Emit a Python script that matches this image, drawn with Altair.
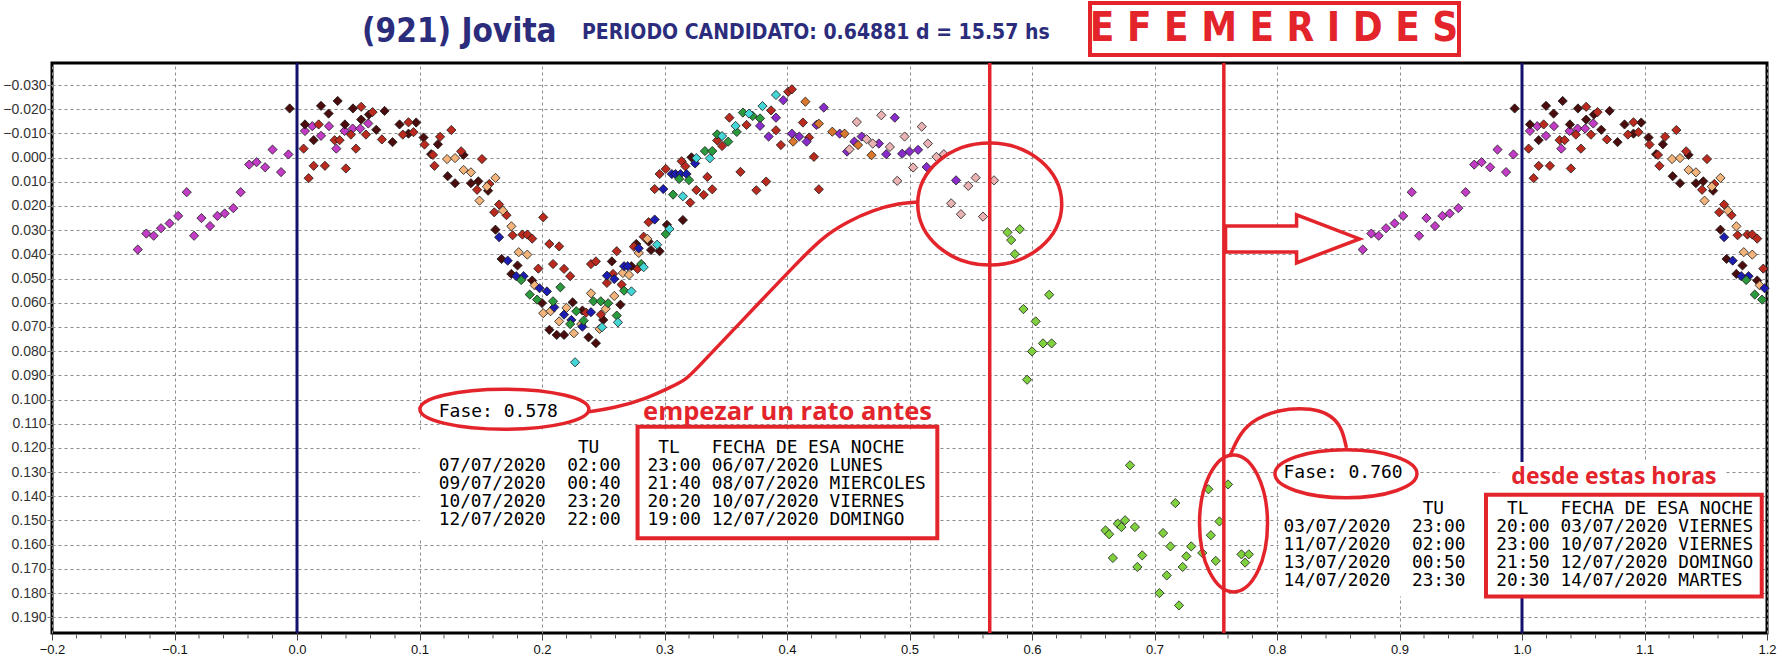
import altair as alt
import pandas as pd

# ---------------- data (phase, magnitude) per night ----------------
night_magenta = [(0.870,0.0380),(0.877,0.0314),(0.883,0.0323),(0.889,0.0292),(0.896,0.0272),(0.903,0.0241),
    (0.910,0.0143),(0.916,0.0323),(0.922,0.0250),(0.929,0.0283),(0.935,0.0241),(0.941,0.0231),(0.948,0.0209),
    (0.954,0.0143),(0.961,0.0029),(0.967,0.0019),(0.974,0.0040),(0.980,-0.0033),(0.987,0.0060),(0.993,-0.0013),
    (0.0065,-0.0110),(0.0125,-0.0130),(0.0196,-0.0090),(0.0261,-0.0130),(0.0321,-0.0037),(0.0388,-0.0110),
    (0.0454,-0.0120),(0.0516,-0.0120),(0.0582,-0.0141)]
night_dark = [(0.994,-0.0203),(0.0065,-0.0137),(0.0136,-0.0072),(0.0196,-0.0214),(0.0258,-0.0182),(0.0332,-0.0234),
    (0.0391,-0.0137),(0.0457,-0.0203),(0.0524,-0.0157),(0.0587,-0.0178),(0.0647,-0.0115),(0.0715,-0.0193),
    (0.0780,-0.0064),(0.0837,-0.0137),(0.0910,-0.0099),(0.0973,-0.0145),(0.1033,-0.0083),(0.1095,-0.0014),
    (0.115,-0.0055),(0.136,-0.0011),(0.123,0.0077),(0.129,0.0106),(0.142,0.0106),(0.148,0.0098),(0.156,0.0137),
    (0.162,0.0298),(0.167,0.0419),(0.180,0.0446),(0.175,0.0481),(0.192,0.0508),(0.200,0.0601),(0.225,0.0598),
    (0.233,0.0632),(0.250,0.0671),(0.264,0.0608),(0.206,0.0712),(0.212,0.0733),(0.218,0.0733),(0.238,0.0743),
    (0.244,0.0767),(0.257,0.0429),(0.273,0.0449),(0.277,0.0357),(0.287,0.0347),(0.289,0.0382),(0.296,0.0387),
    (0.302,0.0278),(0.315,0.0258),(0.322,-0.0001)]
night_red = [(0.0054,-0.0037),(0.0095,0.0085),(0.0136,0.0034),(0.0177,-0.0137),(0.0228,0.0034),(0.0307,-0.0072),
    (0.0348,-0.0072),(0.0399,0.0045),(0.0440,-0.0095),(0.0481,-0.0037),(0.0524,-0.0210),(0.0563,-0.0095),
    (0.0617,-0.0188),(0.0693,-0.0075),(0.0864,-0.0095),(0.0910,-0.0146),(0.0951,-0.0105),(0.1041,-0.0054),
    (0.1122,0.0034),(0.1168,-0.0086),(0.111,-0.0011),(0.126,-0.0114),(0.134,-0.0026),(0.151,0.0006),(0.147,0.0133),
    (0.157,0.0109),(0.161,0.0226),(0.165,0.0194),(0.171,0.0238),(0.176,0.0321),(0.184,0.0318),(0.188,0.0318),
    (0.192,0.0335),(0.201,0.0247),(0.197,0.0459),(0.206,0.0357),(0.214,0.0367),(0.209,0.0440),(0.218,0.0460),
    (0.223,0.0490),(0.236,0.0641),(0.248,0.0649),(0.240,0.0440),(0.244,0.0429),(0.261,0.0387),(0.258,0.0481),
    (0.253,0.0518),(0.265,0.0525),(0.278,0.0460),(0.275,0.0368),(0.283,0.0327),(0.287,0.0267),(0.292,0.0130),
    (0.321,0.0186),(0.326,0.0134),(0.296,0.0068),(0.301,0.0047),(0.314,0.0015),(0.317,0.0036),(0.335,0.0080),
    (0.332,0.0154),(0.339,0.0131),(0.343,-0.0071),(0.347,-0.0048),(0.353,-0.0165),(0.362,0.0059),(0.367,-0.0135),
    (0.375,0.0135),(0.383,0.0099),(0.387,-0.0195),(0.391,-0.0113),(0.395,-0.0052),(0.401,-0.0272),(0.404,-0.0282),
    (0.413,-0.0145),(0.418,-0.0083),(0.422,-0.0003),(0.426,0.0131)]
night_tan = [(0.1225,0.0006),(0.129,0.0002),(0.136,0.0051),(0.142,0.0061),(0.155,0.0120),(0.162,0.0084),
    (0.149,0.0178),(0.168,0.0219),(0.175,0.0284),(0.181,0.0391),(0.188,0.0401),(0.194,0.0528),(0.201,0.0643),
    (0.207,0.0635),(0.220,0.0621),(0.214,0.0677),(0.232,0.0688),(0.240,0.0561),(0.252,0.0625),(0.247,0.0708),
    (0.259,0.0572),(0.226,0.0726),(0.266,0.0477),(0.271,0.0485),(0.279,0.0394),(0.286,0.0336)]
night_blue = [(0.165,0.0329),(0.172,0.0426),(0.179,0.0490),(0.185,0.0490),(0.198,0.0540),(0.204,0.0553),
    (0.210,0.0619),(0.218,0.0649),(0.224,0.0671),(0.240,0.0639),(0.233,0.0699),(0.253,0.0488),(0.259,0.0502),
    (0.267,0.0449),(0.270,0.0449),(0.279,0.0375),(0.292,0.0256),(0.299,0.0130),(0.306,0.0068),(0.309,0.0068),
    (0.313,0.0068),(0.318,0.0068),(0.325,0.0024)]
night_green = [(0.183,0.0506),(0.215,0.0536),(0.190,0.0566),(0.196,0.0587),(0.209,0.0594),(0.223,0.0688),
    (0.228,0.0635),(0.234,0.0674),(0.242,0.0594),(0.248,0.0594),(0.254,0.0602),(0.261,0.0653),(0.267,0.0550),
    (0.281,0.0440),(0.301,0.0316),(0.307,0.0153),(0.312,0.0088),(0.320,0.0093),(0.333,-0.0027),(0.339,-0.0027),
    (0.343,-0.0096),(0.352,-0.0066),(0.359,-0.0106),(0.364,-0.0186),(0.372,-0.0172),(0.378,-0.0162)]
night_cyan = [(0.249,0.0701),(0.262,0.0681),(0.227,0.0846),(0.273,0.0553),(0.283,0.0453),(0.294,0.0360),
    (0.304,0.0295),(0.315,0.0160),(0.326,0.0002),(0.337,0.0003),(0.347,-0.0089),(0.358,-0.0131),(0.369,-0.0182),
    (0.380,-0.0213),(0.391,-0.0259)]
night_violet = [(0.378,-0.0131),(0.385,-0.0087),(0.391,-0.0165),(0.397,-0.0237),(0.404,-0.0099),(0.410,-0.0087),
    (0.416,-0.0066),(0.424,-0.0135),(0.430,-0.0207),(0.443,-0.0099),(0.449,-0.0025),(0.455,-0.0066),(0.461,-0.0087),
    (0.475,-0.0058),(0.481,-0.0014),(0.488,-0.0165),(0.494,-0.0016),(0.500,-0.0025),(0.507,-0.0032),(0.514,0.0039),
    (0.538,0.0094)]
night_orange = [(0.405,-0.0066),(0.415,-0.0231),(0.426,-0.0140),(0.437,-0.0107),(0.447,-0.0099),(0.458,-0.0052),
    (0.469,-0.0010)]
night_pink = [(0.451,-0.0034),(0.457,-0.0147),(0.465,-0.0076),(0.470,-0.0058),(0.477,-0.0175),(0.484,-0.0044),
    (0.490,0.0096),(0.496,-0.0087),(0.503,0.0041),(0.510,-0.0128),(0.515,-0.0058),(0.522,-0.0003),(0.528,-0.0014),
    (0.548,0.0117),(0.554,0.0083),(0.534,0.0189),(0.542,0.0234),(0.560,0.0244),(0.569,0.0094)]
night_lightgreen = [(0.580,0.0309),(0.590,0.0296),(0.583,0.0341),(0.586,0.0399),(0.614,0.0567),(0.593,0.0626),
    (0.603,0.0677),(0.609,0.0768),(0.616,0.0768),(0.600,0.0801),(0.596,0.0918),(0.680,0.1272),(0.660,0.1541),
    (0.663,0.1557),(0.670,0.1513),(0.673,0.1527),(0.676,0.1499),(0.684,0.1527),(0.666,0.1655),(0.690,0.1644),
    (0.686,0.1692),(0.717,0.1428),(0.707,0.1552),(0.713,0.1607),(0.730,0.1607),(0.726,0.1648),(0.723,0.1692),
    (0.710,0.1727),(0.704,0.1800),(0.720,0.1851),(0.739,0.1634),(0.746,0.1561),(0.750,0.1667),(0.753,0.1504),
    (0.744,0.1371),(0.760,0.1351),(0.771,0.1640),(0.777,0.1640),(0.774,0.1674)]

nights = {
    "magenta": night_magenta, "dark": night_dark, "red": night_red, "tan": night_tan,
    "blue": night_blue, "green": night_green, "cyan": night_cyan, "violet": night_violet,
    "orange": night_orange, "pink": night_pink, "lightgreen": night_lightgreen,
}
night_colors = ["#c23cc6", "#4a0c0c", "#bb2a1e", "#f2b47a", "#1c1cb0", "#2a9a3c", "#44d6d6",
                "#8a2ccc", "#d9772c", "#eab2b2", "#7fd23e"]

x_ticks = [-0.2, -0.1, 0.0, 0.1, 0.2, 0.3, 0.4, 0.5, 0.6, 0.7, 0.8, 0.9, 1.0, 1.1, 1.2]
x_minor = [-0.18, -0.16, -0.14, -0.12, -0.08, -0.06, -0.04, -0.02, 0.02, 0.04, 0.06, 0.08,
           0.12, 0.14, 0.16, 0.18, 0.22, 0.24, 0.26, 0.28, 0.32, 0.34, 0.36, 0.38, 0.42, 0.44, 0.46, 0.48,
           0.52, 0.54, 0.56, 0.58, 0.62, 0.64, 0.66, 0.68, 0.72, 0.74, 0.76, 0.78, 0.82, 0.84, 0.86, 0.88,
           0.92, 0.94, 0.96, 0.98, 1.02, 1.04, 1.06, 1.08, 1.12, 1.14, 1.16, 1.18]
y_ticks = [-0.03, -0.02, -0.01, 0.0, 0.01, 0.02, 0.03, 0.04, 0.05, 0.06, 0.07, 0.08, 0.09, 0.10,
           0.11, 0.12, 0.13, 0.14, 0.15, 0.16, 0.17, 0.18, 0.19]

# ephemerides tables
t1_ut = ["             TU", "07/07/2020  02:00", "09/07/2020  00:40", "10/07/2020  23:20", "12/07/2020  22:00"]
t1_tl = [" TL   FECHA DE ESA NOCHE", "23:00 06/07/2020 LUNES", "21:40 08/07/2020 MIERCOLES",
         "20:20 10/07/2020 VIERNES", "19:00 12/07/2020 DOMINGO"]
t2_ut = ["             TU", "03/07/2020  23:00", "11/07/2020  02:00", "13/07/2020  00:50", "14/07/2020  23:30"]
t2_tl = [" TL   FECHA DE ESA NOCHE", "20:00 03/07/2020 VIERNES", "23:00 10/07/2020 VIERNES",
         "21:50 12/07/2020 DOMINGO", "20:30 14/07/2020 MARTES"]

# ---------------- build tables ----------------
rows = []
for name, pts in nights.items():
    for p, m in pts:
        rows.append((p, m, name))
base = pd.DataFrame(rows, columns=["phase", "mag", "night"])
left = base[base.phase >= 0.8].assign(phase=lambda d: d.phase - 1)
right = base[base.phase < 0.2].assign(phase=lambda d: d.phase + 1)
pts_df = pd.concat([base, left, right], ignore_index=True)

RED = "#e3242b"
NAVY = "#12126e"
TNAVY = "#2c2c7c"
NARROW = "Liberation Sans Narrow, Arial Narrow, DejaVu Sans Condensed, sans-serif"
MONO = "DejaVu Sans Mono"

def nb(lines):
    # zero-width char keeps leading spaces from being trimmed
    return "\n".join("\u200b" + s.replace(" ", "\u00a0") for s in lines)

xs = alt.Scale(domain=[-0.2, 1.2], nice=False, zero=False)
ys = alt.Scale(domain=[-0.0391, 0.1965], nice=False, zero=False, reverse=True)
AX_X = alt.Axis(values=x_ticks, format=".1f", title=None, grid=True, gridDash=[3, 3], gridColor="#8c8c8c",
                gridWidth=1, domain=False, tickColor="#444", tickSize=7, labelFontSize=13,
                labelFont="Liberation Sans", labelColor="#111", labelPadding=3, labelFlush=False)
AX_Y = alt.Axis(values=y_ticks, format=".3f", title=None, grid=True, gridDash=[3, 3], gridColor="#8c8c8c",
                gridWidth=1, domain=False, tickColor="#777", tickSize=5, labelFontSize=14,
                labelFont="Liberation Sans", labelColor="#333", labelPadding=1, labelOverlap=False)
X = lambda f: alt.X(f, type="quantitative", scale=xs, axis=AX_X)
Y = lambda f: alt.Y(f, type="quantitative", scale=ys, axis=AX_Y)

one = pd.DataFrame({"k": [0]})

points = alt.Chart(pts_df).mark_point(shape="diamond", filled=True, size=85, opacity=1,
                                      stroke="#1a1a1a", strokeWidth=0.8).encode(
    x=X("phase"), y=Y("mag"),
    color=alt.Color("night:N", scale=alt.Scale(domain=list(nights.keys()), range=night_colors), legend=None))

minor = alt.Chart(pd.DataFrame({"x": x_minor})).mark_rule(color="#555", strokeWidth=1).encode(
    x=X("x"), y=alt.value(572), y2=alt.value(575.5))

# white label backgrounds
bg_df = pd.DataFrame({
    "x": [0.1003, 0.8014, 0.9815], "x2": [0.5227, 1.1957, 1.165],
    "y": [0.1130, 0.1375, 0.1258], "y2": [0.1573, 0.1814, 0.1392]})
bgs = alt.Chart(bg_df).mark_rect(fill="white").encode(x=X("x"), x2="x2", y=Y("y"), y2="y2")

navy_df = pd.DataFrame({"x": [0.0, 1.0]})
navy = alt.Chart(navy_df).mark_rule(color=NAVY, strokeWidth=3).encode(x=X("x"))
red_df = pd.DataFrame({"x": [0.5655, 0.7566]})
red_rules = alt.Chart(red_df).mark_rule(color=RED, strokeWidth=3.5).encode(x=X("x"))

def ellipse(cx, cy, width, height, fill=None):
    if width >= height:
        k = height / width
        path = f"M -1 0 A 1 {k:.4f} 0 1 0 1 0 A 1 {k:.4f} 0 1 0 -1 0 Z"
        size = width ** 2
    else:
        k = width / height
        path = f"M 0 -1 A {k:.4f} 1 0 1 0 0 1 A {k:.4f} 1 0 1 0 0 -1 Z"
        size = height ** 2
    props = dict(shape=path, size=size, stroke=RED, strokeWidth=3.5, opacity=1)
    src = alt.Chart(pd.DataFrame({"x": [cx], "y": [cy]}))
    if fill:
        m = src.mark_point(filled=True, fill=fill, **props)
    else:
        m = src.mark_point(filled=False, **props)
    return m.encode(x=X("x"), y=Y("y"))

ell1 = ellipse(0.5655, 0.0192, 144, 122)
ell2 = ellipse(0.1693, 0.1040, 169, 40, fill="white")
ell3 = ellipse(0.7645, 0.1512, 68, 137)
ell4 = ellipse(0.8563, 0.1307, 142, 48, fill="white")

curve1_df = pd.DataFrame({
    "x": [0.5068, 0.4921, 0.4701, 0.4489, 0.4293, 0.4081, 0.3632, 0.3290, 0.3176, 0.3053, 0.2825, 0.2588, 0.2376],
    "y": [0.0184, 0.0188, 0.0217, 0.0266, 0.0328, 0.0436, 0.0675, 0.0857, 0.0919, 0.0948, 0.1002, 0.1035, 0.1051]})
curve1_df["i"] = range(len(curve1_df))
curve2_df = pd.DataFrame({
    "x": [0.7613, 0.7694, 0.7833, 0.8021, 0.8184, 0.8347, 0.8469, 0.8534, 0.8567],
    "y": [0.1237, 0.1138, 0.1076, 0.1043, 0.1035, 0.1043, 0.1076, 0.1126, 0.1200]})
curve2_df["i"] = range(len(curve2_df))
curve1 = alt.Chart(curve1_df).mark_line(color=RED, strokeWidth=3.5, interpolate="basis").encode(
    x=X("x"), y=Y("y"), order="i:Q")
curve2 = alt.Chart(curve2_df).mark_line(color=RED, strokeWidth=3.5, interpolate="basis").encode(
    x=X("x"), y=Y("y"), order="i:Q")

box_df = pd.DataFrame({"x": [0.278, 0.9706], "x2": [0.5227, 1.1957], "y": [0.1112, 0.1394], "y2": [0.1573, 0.1814]})
boxes = alt.Chart(box_df).mark_rect(fill=None, fillOpacity=0, stroke=RED, strokeWidth=4).encode(
    x=X("x"), x2="x2", y=Y("y"), y2="y2")

tab_df = pd.DataFrame({
    "x": [0.1157, 0.2861, 0.8053, 0.9790],
    "y": [0.1202, 0.1202, 0.1453, 0.1453],
    "t": [nb(t1_ut), nb(t1_tl), nb(t2_ut), nb(t2_tl)]})
tables = alt.Chart(tab_df).mark_text(align="left", baseline="middle", font=MONO, fontSize=17.8,
                                      lineHeight=18, lineBreak="\n", color="black").encode(
    x=X("x"), y=Y("y"), text="t:N")

fase_df = pd.DataFrame({"x": [0.1157, 0.8053], "y": [0.1051, 0.1303], "t": ["Fase: 0.578", "Fase: 0.760"]})
fase = alt.Chart(fase_df).mark_text(align="left", baseline="middle", font=MONO, fontSize=18,
                                     color="black").encode(x=X("x"), y=Y("y"), text="t:N")

red_txt_df = pd.DataFrame({"x": [0.2825, 0.9913], "y": [0.1051, 0.1322],
                           "t": ["empezar un rato antes", "desde estas horas"], "s": [25.5, 23]})
red_txt = alt.Chart(red_txt_df).mark_text(align="left", baseline="middle", font="Open Sans",
                                           fontWeight="bold", color=RED).encode(
    x=X("x"), y=Y("y"), text="t:N", size=alt.Size("s:Q", scale=None, legend=None))

arrow_path = "M -1 -0.194 L 0.06 -0.194 L 0.06 -0.358 L 1 0 L 0.06 0.358 L 0.06 0.194 L -1 0.194 Z"
arrow = alt.Chart(pd.DataFrame({"x": [0.8127], "y": [0.0336]})).mark_point(
    shape=arrow_path, size=134 ** 2, filled=True, fill="white", stroke=RED, strokeWidth=3.5, opacity=1).encode(
    x=X("x"), y=Y("y"))

# title pieces (pixel placement above the plot area)
t_name = alt.Chart(one).mark_text(text="(921) Jovita", align="left", baseline="middle", font=NARROW,
                                  fontWeight="bold", fontSize=33, color=TNAVY).encode(
    x=alt.value(310), y=alt.value(-31))
t_per = alt.Chart(one).mark_text(text="PERIODO CANDIDATO: 0.64881 d = 15.57 hs", align="left",
                                 baseline="middle", font=NARROW, fontWeight="bold", fontSize=21,
                                 color=TNAVY).encode(x=alt.value(530), y=alt.value(-30))
t_efe = alt.Chart(one).mark_text(text=" ".join("EFEMERIDES"), align="center", baseline="middle",
                                 font=NARROW, fontWeight="bold", fontSize=40, color=RED).encode(
    x=alt.value(1222), y=alt.value(-34))
t_box = alt.Chart(one).mark_rect(fill=None, fillOpacity=0, stroke=RED, strokeWidth=4).encode(
    x=alt.value(1038), x2=alt.value(1407), y=alt.value(-60), y2=alt.value(-8))

chart = alt.layer(
    points, minor, navy, bgs, red_rules, ell1, ell3, curve1, curve2, ell2, ell4,
    boxes, tables, fase, red_txt, arrow, t_name, t_per, t_efe, t_box
).properties(
    width=1715, height=570,
    padding={"left": 52, "top": 63, "right": 17, "bottom": 31},
    autosize=alt.AutoSizeParams(type="none"),
    background="white",
).configure_view(stroke="black", strokeWidth=3)

chart.save("out.html", embed_options={"renderer": "svg", "actions": False})
